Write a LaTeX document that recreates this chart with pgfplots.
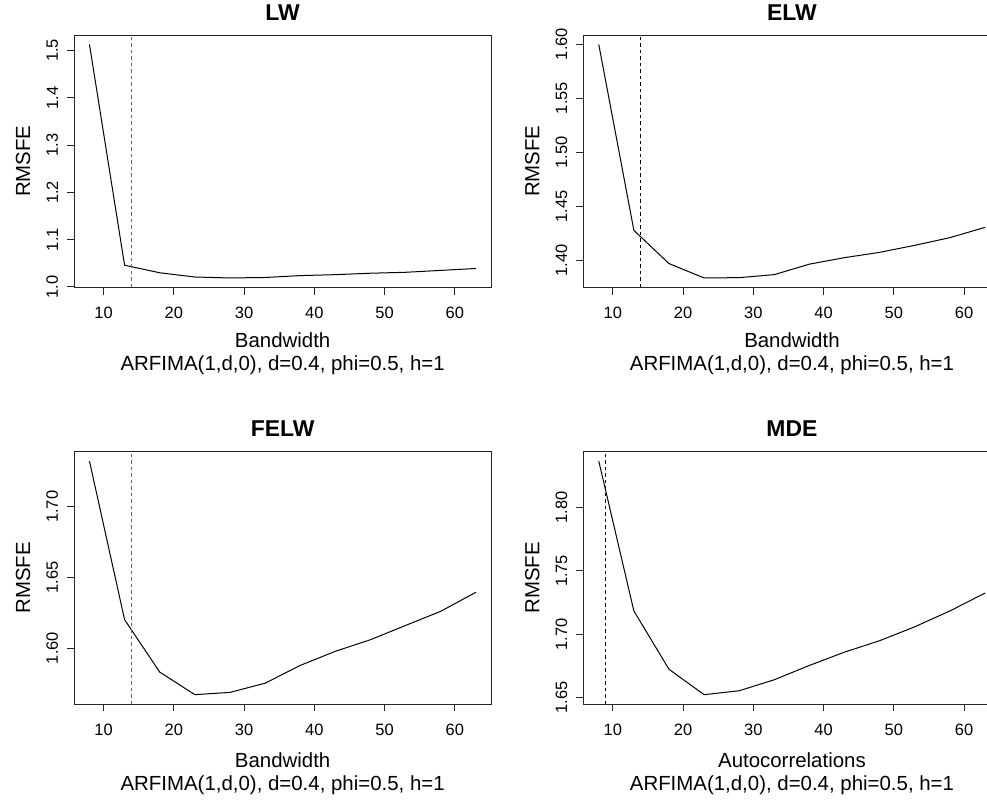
\documentclass[border=0pt]{standalone}
\usepackage{fontspec}
\setmainfont{Liberation Sans}
\usepackage{pgfplots}
\pgfplotsset{compat=1.18}

% R base-graphics look: box, ticks left/bottom, rotated y tick labels
\pgfplotsset{
  rpanel/.style={
    anchor=north west, scale only axis,
    width=417.3bp, height=252.3bp,
    clip=false,
    xmin=5.8, xmax=65.2,
    xtick={10,20,30,40,50,60},
    axis line style={line width=1bp, black!85},
    tick align=outside, xtick pos=left, ytick pos=left,
    major tick length=7.3bp,
    tick style={line width=1bp, black!85},
    /pgf/number format/assume math mode=true,
    ticklabel style={font=\fontsize{16.5}{18}\selectfont, inner sep=0pt},
    xticklabel style={anchor=north},
    yticklabel style={rotate=90, anchor=south},
    xticklabel shift=12.1bp,
    yticklabel shift=8.4bp,
    title style={font=\bfseries\fontsize{23}{26}\selectfont, at={(axis description cs:0.5,1.0357)}, anchor=base},
    ylabel style={font=\fontsize{20.5}{24}\selectfont, at={(axis description cs:-0.1222,0.5)}, anchor=center},
    label style={font=\fontsize{20.5}{24}\selectfont},
    ylabel=RMSFE,
  },
  toprow/.style={xlabel style={at={(axis description cs:0.5,-0.2366)}, anchor=base}},
  botrow/.style={xlabel style={at={(axis description cs:0.5,-0.2513)}, anchor=base}},
  curve/.style={black, line width=1bp},
  vline/.style={line width=1bp, dash pattern=on 3.5bp off 3bp},
}
\newcommand{\subcap}{ARFIMA(1,d,0), d=0.4, phi=0.5, h=1}

\begin{document}
\begin{tikzpicture}

% LW
\begin{axis}[rpanel, toprow, at={(74bp,-35bp)}, title=LW, xlabel=Bandwidth,
  ymin=0.99924, ymax=1.53276, ytick={1.0,1.1,1.2,1.3,1.4,1.5},
  yticklabel style={/pgf/number format/.cd, fixed, fixed zerofill, precision=1}]
\addplot[curve] coordinates {
  (8,1.513) (13,1.046) (18,1.030) (23,1.021) (28,1.019) (33,1.020)
  (38,1.024) (43,1.026) (48,1.029) (53,1.031) (58,1.035) (63,1.039)};
\addplot[vline, black!60] coordinates {(14,0.99924) (14,1.53276)};
\node[anchor=base, font=\fontsize{20.5}{24}\selectfont] at (axis description cs:0.5,-0.329) {\subcap};
\end{axis}

% ELW
\begin{axis}[rpanel, toprow, at={(583.3bp,-35bp)}, title=ELW, xlabel=Bandwidth,
  ymin=1.37506, ymax=1.60834, ytick={1.40,1.45,1.50,1.55,1.60},
  yticklabel style={/pgf/number format/.cd, fixed, fixed zerofill, precision=2}]
\addplot[curve] coordinates {
  (8,1.5997) (13,1.4277) (18,1.3970) (23,1.3837) (28,1.3840) (33,1.3868)
  (38,1.3965) (43,1.4025) (48,1.4074) (53,1.4139) (58,1.4210) (63,1.4305)};
\addplot[vline, black] coordinates {(14,1.37506) (14,1.60834)};
\node[anchor=base, font=\fontsize{20.5}{24}\selectfont] at (axis description cs:0.5,-0.329) {\subcap};
\end{axis}

% FELW
\begin{axis}[rpanel, botrow, at={(74bp,-451.7bp)}, title=FELW, xlabel=Bandwidth,
  ymin=1.56038, ymax=1.73902, ytick={1.60,1.65,1.70},
  yticklabel style={/pgf/number format/.cd, fixed, fixed zerofill, precision=2}]
\addplot[curve] coordinates {
  (8,1.7324) (13,1.6201) (18,1.5830) (23,1.5670) (28,1.5686) (33,1.5751)
  (38,1.5877) (43,1.5977) (48,1.6059) (53,1.6160) (58,1.6260) (63,1.6395)};
\addplot[vline, black!60] coordinates {(14,1.56038) (14,1.73902)};
\node[anchor=base, font=\fontsize{20.5}{24}\selectfont] at (axis description cs:0.5,-0.3436) {\subcap};
\end{axis}

% MDE
\begin{axis}[rpanel, botrow, at={(583.3bp,-451.7bp)}, title=MDE, xlabel=Autocorrelations,
  ymin=1.64503, ymax=1.84407, ytick={1.65,1.70,1.75,1.80},
  yticklabel style={/pgf/number format/.cd, fixed, fixed zerofill, precision=2}]
\addplot[curve] coordinates {
  (8,1.8367) (13,1.7184) (18,1.6724) (23,1.6524) (28,1.6555) (33,1.6642)
  (38,1.6755) (43,1.6860) (48,1.6950) (53,1.7060) (58,1.7185) (63,1.7326)};
\addplot[vline, black] coordinates {(9,1.64503) (9,1.84407)};
\node[anchor=base, font=\fontsize{20.5}{24}\selectfont] at (axis description cs:0.5,-0.3436) {\subcap};
\end{axis}

\pgfresetboundingbox
\path[use as bounding box] (0,0) rectangle (987bp,-802bp);
\end{tikzpicture}
\end{document}
